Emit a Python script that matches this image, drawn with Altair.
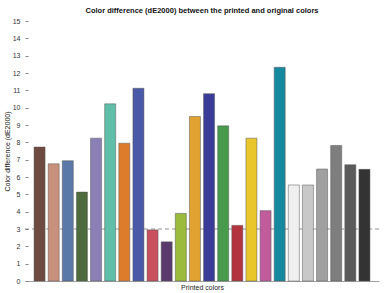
import altair as alt
import pandas as pd

colors_idx = [f"c{i:02d}" for i in range(1, 25)]
values = [7.73, 6.76, 6.94, 5.13, 8.24, 10.22, 7.95, 11.12, 2.95, 2.26, 3.9, 9.49,
          10.81, 8.95, 3.21, 8.24, 4.06, 12.33, 5.54, 5.54, 6.46, 7.82, 6.71, 6.44]
fills = ["#6d4b40", "#c8917b", "#5a79a8", "#4d6b3c", "#8a80b6", "#5fbfa8", "#dd7d2b", "#4a5aa8",
         "#c8505e", "#5a3a6c", "#9bbb3c", "#e2a232", "#3a3c98", "#489a4c", "#b3343f", "#e8c62c",
         "#c05c9c", "#17899f", "#f0f0f0", "#c8c8c8", "#a0a0a0", "#7e7e7e", "#5a5a5a", "#333333"]
y_ticks = [0, 1, 2, 3, 4, 5, 6, 7, 8, 9, 10, 11, 12, 13, 14, 15]

df = pd.DataFrame({"color": colors_idx, "value": values, "fill": fills})

FONT = "Liberation Sans"

yscale = alt.Scale(domain=[0, 15], nice=False)
yaxis = alt.Axis(title="Color difference (dE2000)", values=y_ticks,
                 grid=False, domain=False, tickSize=3, tickColor="#888888",
                 offset=-3, labelOverlap=False,
                 labelFont=FONT, labelFontSize=7, labelColor="#333333", labelPadding=5,
                 titleFont=FONT, titleFontSize=7, titleFontWeight="normal",
                 titleColor="#222222", titleX=-18, titleY=130)

ref = alt.Chart(pd.DataFrame({"value": [3]})).mark_rule(
    color="#777777", strokeDash=[4, 3], strokeWidth=0.8
).encode(y=alt.Y("value:Q", scale=yscale, axis=None))

bars = alt.Chart(df).mark_bar(stroke="#555555", strokeWidth=0.7, strokeOpacity=0.7).encode(
    x=alt.X("color:N", sort=colors_idx,
            scale=alt.Scale(paddingInner=0.22, paddingOuter=0.64),
            axis=alt.Axis(title="Printed colors", labels=False, ticks=False,
                          domainColor="#888888", domainWidth=0.8,
                          titleFont=FONT, titleFontSize=7, titleFontWeight="normal",
                          titleColor="#222222", titlePadding=2)),
    y=alt.Y("value:Q", scale=yscale, axis=yaxis),
    fill=alt.Fill("fill:N", scale=None),
)

chart = alt.layer(ref, bars).resolve_axis(y="independent").properties(
    width=354, height=260,
    title=alt.TitleParams("Color difference (dE2000) between the printed and original colors",
                          font=FONT, fontSize=7.5, fontWeight="bold", color="#111111",
                          anchor="middle", offset=3),
    padding={"left": 25, "top": 21, "right": 11, "bottom": 12},
    autosize="none",
).configure_view(stroke=None)

chart.save("out.html", embed_options={"renderer": "svg", "actions": False})
